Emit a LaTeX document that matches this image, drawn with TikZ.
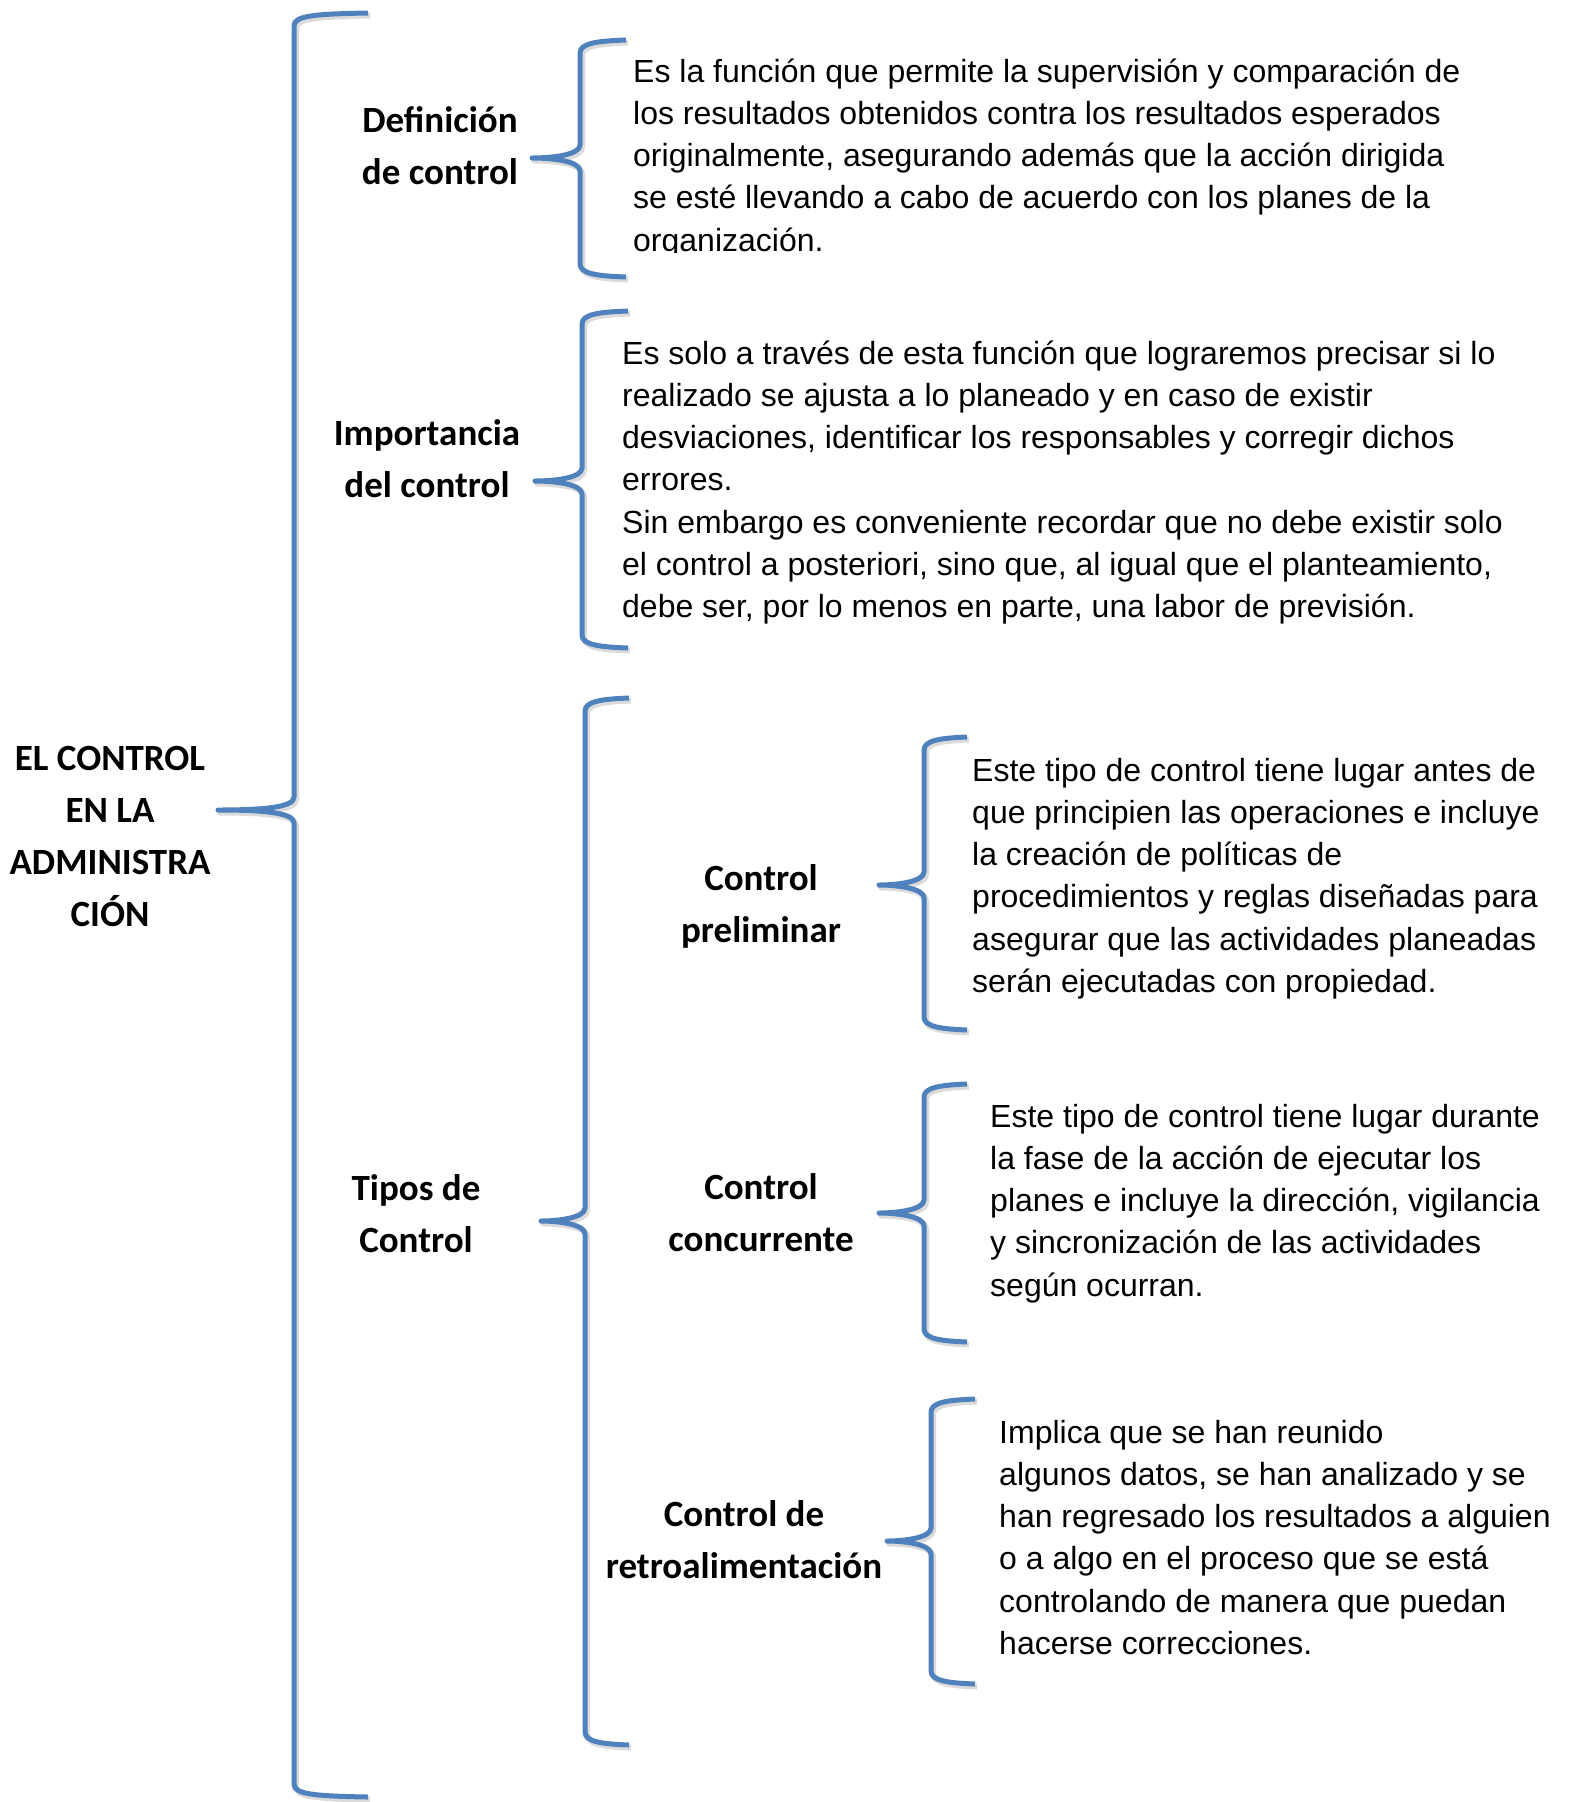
\documentclass[tikz,border=0pt]{standalone}
\usepackage{fontspec}
\setmainfont{Liberation Sans}
\newfontfamily\lblfont{Carlito}
\definecolor{brblue}{HTML}{4F81BD}
% #1 style, #2 x of arm ends, #3 x of vertical, #4 x of tip, #5 y top, #6 y tip, #7 y bottom
\newcommand\cbrace[7]{%
  \draw[#1] (#2,#5) .. controls ({#3+18},{#5+1}) and (#3,{#5+3}) .. (#3,{#5+13})
    -- (#3,{#6-13}) .. controls (#3,{#6-3}) and ({#3-28},#6) .. (#4,#6)
    .. controls ({#3-28},#6) and (#3,{#6+3}) .. (#3,{#6+13})
    -- (#3,{#7-13}) .. controls (#3,{#7-3}) and ({#3+18},{#7-1}) .. (#2,#7);}
\newcommand\sbrace[6]{%
  \cbrace{brshadow}{#1}{#2}{#3}{#4}{#5}{#6}%
  \cbrace{brace line}{#1}{#2}{#3}{#4}{#5}{#6}}
\tikzset{
  brace line/.style={draw=brblue, line width=5pt, line join=round, line cap=butt},
  brshadow/.style={draw=black, opacity=0.14, line width=6pt, line join=round, xshift=2pt, yshift=-2.5pt},
  body/.style={anchor=north west, inner sep=0pt, align=left, font=\fontsize{32}{42.2}\selectfont},
  lbl/.style={anchor=north, inner sep=0pt, align=center, font=\lblfont\bfseries\fontsize{37}{52}\selectfont}
}
\begin{document}
\begin{tikzpicture}[x=1pt,y=-1pt]
\useasboundingbox (0,0) rectangle (1569,1802);

% braces
\sbrace{368}{294}{218}{13}{810}{1797}
\sbrace{626}{580}{532}{40}{158}{277}
\sbrace{628}{582}{535}{311}{481}{648}
\sbrace{629}{585}{541}{698}{1221}{1745}
\sbrace{967}{924}{879}{737}{885}{1030}
\sbrace{967}{924}{879}{1084}{1213}{1342}
\sbrace{975}{931}{887}{1399}{1541}{1684}

% labels
\node[lbl] (root) at (110,{770-36.4}) {\strut EL CONTROL\\EN LA\\ADMINISTRA\\CIÓN};
\node[lbl] (defl) at (440,{132-36.4}) {\strut Definición\\de control};
\node[lbl] (impl) at (427,{445-36.4}) {\strut Importancia\\del control};
\node[lbl] (tipl) at (416,{1200-36.4}) {\strut Tipos de\\Control};
\node[lbl] (prel) at (761,{890-36.4}) {\strut Control\\preliminar};
\node[lbl] (conl) at (761,{1199-36.4}) {\strut Control\\concurrente};
\node[lbl] (retl) at (744,{1526-36.4}) {\strut Control de\\retroalimentación};

% texts
\begin{scope}
\clip (600,0) rectangle (1569,252);
\node[body] (deft) at (633,{82-29.54}) {\strut Es la función que permite la supervisión y comparación de\\los resultados obtenidos contra los resultados esperados\\originalmente, asegurando además que la acción dirigida\\se esté llevando a cabo de acuerdo con los planes de la\\organización.};
\end{scope}
\node[body] (impt) at (622,{364-29.54}) {\strut Es solo a través de esta función que lograremos precisar si lo\\realizado se ajusta a lo planeado y en caso de existir\\desviaciones, identificar los responsables y corregir dichos\\errores.\\Sin embargo es conveniente recordar que no debe existir solo\\el control a posteriori, sino que, al igual que el planteamiento,\\debe ser, por lo menos en parte, una labor de previsión.};
\node[body] (pret) at (972,{781-29.54}) {\strut Este tipo de control tiene lugar antes de\\que principien las operaciones e incluye\\la creación de políticas de\\procedimientos y reglas diseñadas para\\asegurar que las actividades planeadas\\serán ejecutadas con propiedad.};
\node[body] (cont) at (990,{1127-29.54}) {\strut Este tipo de control tiene lugar durante\\la fase de la acción de ejecutar los\\planes e incluye la dirección, vigilancia\\y sincronización de las actividades\\según ocurran.};
\node[body] (rett) at (999,{1443-29.54}) {\strut Implica que se han reunido\\algunos datos, se han analizado y se\\han regresado los resultados a alguien\\o a algo en el proceso que se está\\controlando de manera que puedan\\hacerse correcciones.};
\end{tikzpicture}
\end{document}
